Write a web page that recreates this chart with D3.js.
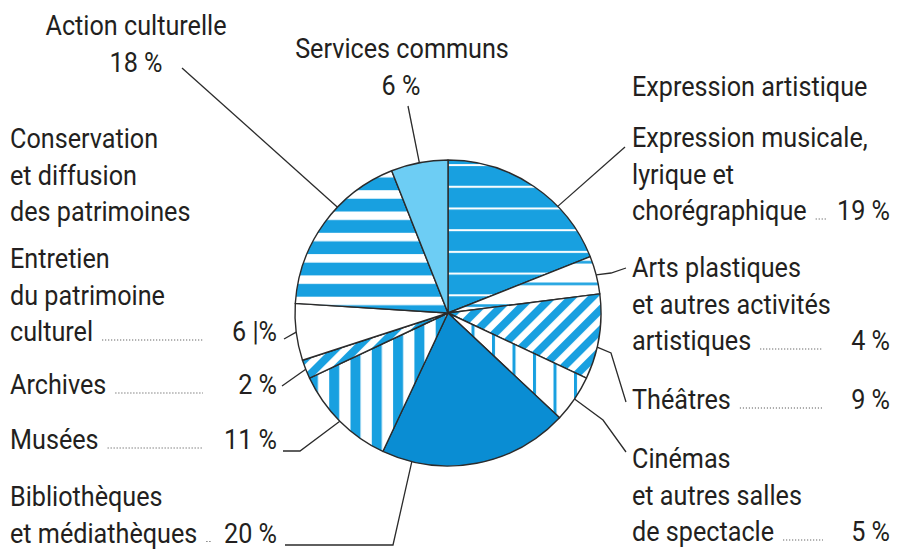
<!DOCTYPE html>
<html><head><meta charset="utf-8">
<script src="https://cdn.jsdelivr.net/npm/d3@7"></script>
<style>
body{margin:0;background:#fff;}
text{font-family:Roboto,"Liberation Sans",sans-serif;fill:#231f20;}
</style></head>
<body><svg id="c" width="899" height="550"></svg>
<script>
// ---- data ----
const categories = ["Expression musicale, lyrique et chorégraphique","Arts plastiques et autres activités artistiques","Théâtres","Cinémas et autres salles de spectacle","Bibliothèques et médiathèques","Musées","Archives","Entretien du patrimoine culturel","Action culturelle","Services communs"];
const values = [19,4,9,5,20,11,2,6,18,6];
const valueLabels = ["19 %","4 %","9 %","5 %","20 %","11 %","2 %","6 |%","18 %","6 %"];
const labelLines = [
  ["Expression musicale,","lyrique et","chorégraphique"],
  ["Arts plastiques","et autres activités","artistiques"],
  ["Théâtres"],
  ["Cinémas","et autres salles","de spectacle"],
  ["Bibliothèques","et médiathèques"],
  ["Musées"],
  ["Archives"],
  ["Entretien","du patrimoine","culturel"],
  ["Action culturelle"],
  ["Services communs"]
];
const groupHeaders = ["Expression artistique","Conservation","et diffusion","des patrimoines"];

// ---- styles / layout ----
const BLUE="#18a0e0", DARK="#0a8dd3", LIGHT="#6dcdf4", LINE="#2b2b2b";
const fills = ["url(#pMus)","url(#pArts)","url(#pDiag)","url(#pCine)",DARK,"url(#pMusee)","url(#pDiag)","#ffffff","url(#pAct)",LIGHT];
const cx=448, cy=313, R=153;
const FS=28, LH=36.5, SX=0.9;

const svg=d3.select("#c");
const defs=svg.append("defs");
function pat(id,w,h,bg,rects,transform){
  const p=defs.append("pattern").attr("id",id).attr("patternUnits","userSpaceOnUse")
    .attr("width",w).attr("height",h);
  if(transform) p.attr("patternTransform",transform);
  p.append("rect").attr("width",w).attr("height",h).attr("fill",bg);
  rects.forEach(r=>p.append("rect").attr("x",r[0]).attr("y",r[1]).attr("width",r[2]).attr("height",r[3]).attr("fill",r[4]));
}
pat("pMus",20,21.7,BLUE,[[0,3,20,2,"#fff"]]);
pat("pArts",20,21.7,"#fff",[[0,13,20,2.6,BLUE]]);
pat("pDiag",14.5,20,"#fff",[[0,0,7.8,20,BLUE]],"rotate(45)");
pat("pCine",20.5,20,"#fff",[[0,0,3,20,BLUE]],"translate(3,0)");
pat("pMusee",21.3,20,"#fff",[[0,0,10,20,BLUE]],"translate(9,0)");
pat("pAct",20,21.3,BLUE,[[0,0,20,8.5,"#fff"]],"translate(0,5)");

const pie=d3.pie().sort(null).value(d=>d).startAngle(0).endAngle(2*Math.PI);
const arcs=pie(values);
const arc=d3.arc().innerRadius(0).outerRadius(R);
const g=svg.append("g").attr("transform",`translate(${cx},${cy})`);
g.selectAll("path").data(arcs).join("path")
  .attr("d",arc).attr("fill",(d,i)=>fills[i])
  .attr("stroke",LINE).attr("stroke-width",1.4).attr("stroke-linejoin","round");

function txt(x,y,t,anchor){
  return svg.append("text").attr("transform",`translate(${x},${y}) scale(${SX},1)`)
    .attr("text-anchor",anchor||"start").attr("font-size",FS).text(t);
}
function edge(i,f){
  const a=arcs[i].startAngle+(arcs[i].endAngle-arcs[i].startAngle)*f;
  return [cx+R*Math.sin(a), cy-R*Math.cos(a)];
}

const layout=[
  {x:632,y:147,val:890,d1:826},
  {x:632,y:277,val:890,d1:823},
  {x:632,y:409,val:890,d1:823},
  {x:632,y:468,val:890,d1:823},
  {x:10,y:506,val:277,d1:203},
  {x:10,y:449,val:277,d1:203},
  {x:10,y:394,val:277,d1:203},
  {x:10,y:268,val:277,d1:203}
];
layout.forEach((L,i)=>{
  let lastNode;
  labelLines[i].forEach((t,k)=>{lastNode=txt(L.x,L.y+k*LH,t);});
  const last=L.y+(labelLines[i].length-1)*LH;
  txt(L.val,last,valueLabels[i],"end");
  const endX=L.x+lastNode.node().getComputedTextLength()*SX+9;
  svg.append("line").attr("x1",endX).attr("x2",Math.max(L.d1,endX+6)).attr("y1",last-1).attr("y2",last-1)
    .attr("stroke","#555").attr("stroke-width",1.2).attr("stroke-dasharray","1.1 1.9");
});
txt(136,35,labelLines[8][0],"middle");
txt(136,72,valueLabels[8],"middle");
txt(402,58,labelLines[9][0],"middle");
txt(401,95,valueLabels[9],"middle");
txt(632,96,groupHeaders[0]);
[1,2,3].forEach((k,j)=>txt(10,148+j*LH,groupHeaders[k]));

const leaders=[
  {i:0,f:0.67,pts:[[625,147]]},
  {i:1,f:0.5,pts:[[611,273],[626,268]]},
  {i:2,f:0.62,pts:[[611,353],[626,402]]},
  {i:3,f:0.5,pts:[[603,420],[626,452]]},
  {i:4,f:0.84,pts:[[393,545],[285,545]]},
  {i:5,f:0.5,pts:[[300,451],[283,451]]},
  {i:6,f:0.5,pts:[[282,386]]},
  {i:7,f:0.5,pts:[[284,339]]},
  {i:8,f:0.62,pts:[[182,68]]},
  {i:9,f:0.5,pts:[[408,106]]}
];
const lg=d3.line();
leaders.forEach(l=>{
  svg.append("path").attr("d",lg([edge(l.i,l.f),...l.pts])).attr("fill","none")
    .attr("stroke",LINE).attr("stroke-width",1.3);
});
</script></body></html>
